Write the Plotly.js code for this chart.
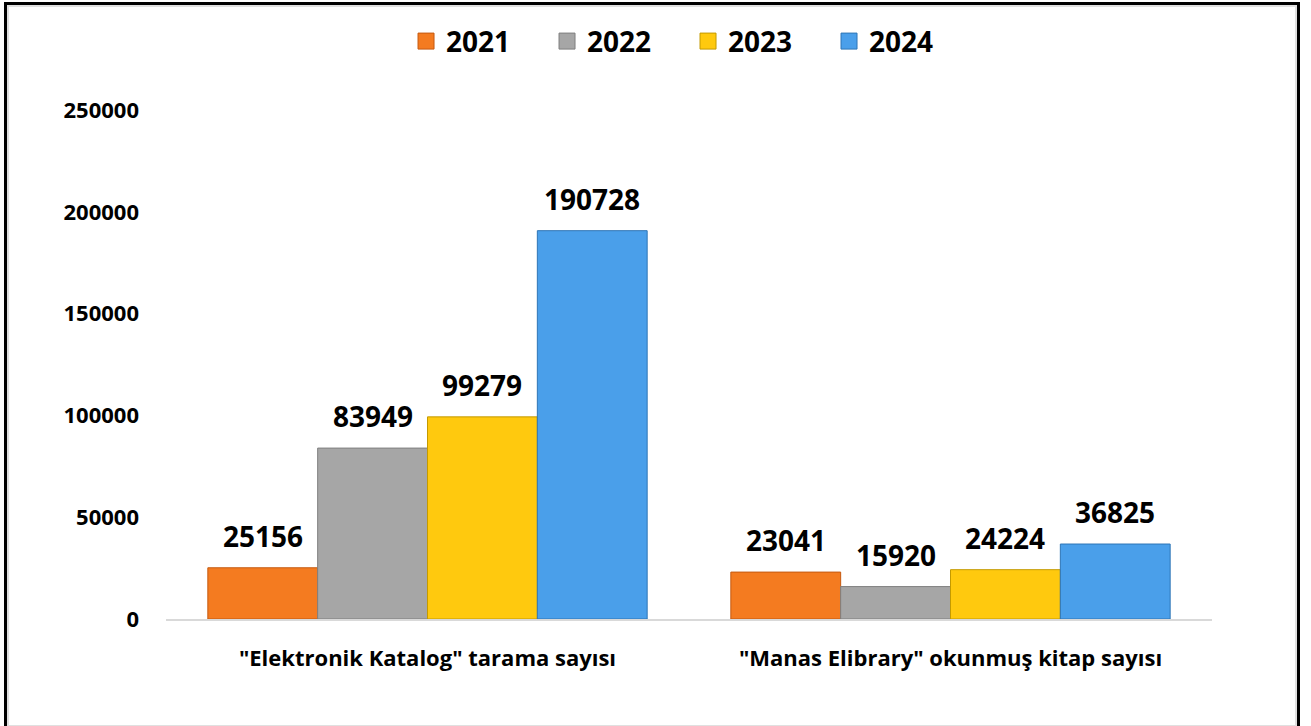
<!DOCTYPE html>
<html>
<head>
<meta charset="utf-8">
<script src="https://cdn.plot.ly/plotly-3.0.1.min.js"></script>
<style>
  html, body { margin: 0; padding: 0; background: #ffffff; }
  #wrap { position: relative; width: 1311px; height: 726px; overflow: hidden; }
  #chart { position: absolute; left: 0; top: 0; width: 1311px; height: 726px; }
  #frame { position: absolute; left: 4px; top: 2px; width: 1290px; height: 740px;
           border-left: 3px solid #000; border-top: 3px solid #000; border-right: 3px solid #000;
           pointer-events: none; }
  #inner { position: absolute; left: 7px; top: 5px; width: 1286px; height: 718px;
           border: 2px solid #e0e0e0; pointer-events: none; }
</style>
</head>
<body>
<div id="wrap">
  <div id="chart"></div>
  <div id="inner"></div>
  <div id="frame"></div>
</div>
<script>
const categories = ['"Elektronik Katalog" tarama sayısı', '"Manas Elibrary" okunmuş kitap sayısı'];
const years = ['2021', '2022', '2023', '2024'];
const values2021 = [25156, 23041];
const values2022 = [83949, 15920];
const values2023 = [99279, 24224];
const values2024 = [190728, 36825];
const tickValues = [0, 50000, 100000, 150000, 200000, 250000];

const seriesValues = [values2021, values2022, values2023, values2024];
const fillColors = ['#F47B20', '#A6A6A6', '#FFC90E', '#4A9FEA'];
const lineColors = ['#C55A11', '#7F7F7F', '#C49A00', '#2E75B6'];
const FONT = 'Open Sans, Liberation Sans, sans-serif';

const W = 1311, H = 726;
const margin = { l: 166, r: 99, t: 110, b: 107 };
const bargap = 0.16;
const plotW = W - margin.l - margin.r;
const barPx = plotW / categories.length * (1 - bargap) / years.length;

const traces = seriesValues.map((vals, i) => ({
  type: 'bar',
  name: years[i],
  x: categories,
  y: vals,
  showlegend: false,
  marker: { color: fillColors[i], line: { color: lineColors[i], width: 1 } },
  hoverinfo: 'skip'
}));

// legend entries (square swatches like the reference)
years.forEach((yr, i) => {
  traces.push({
    type: 'scatter',
    mode: 'markers',
    name: yr,
    x: [null], y: [null],
    showlegend: true,
    marker: { symbol: 'square', size: 16, color: fillColors[i], line: { color: lineColors[i], width: 1 } },
    hoverinfo: 'skip'
  });
});

const annotations = [];
seriesValues.forEach((vals, i) => {
  vals.forEach((v, j) => {
    annotations.push({
      x: categories[j], y: v, xref: 'x', yref: 'y',
      text: String(v), showarrow: false,
      xanchor: 'center', yanchor: 'bottom',
      xshift: (i - (years.length - 1) / 2) * barPx,
      yshift: 11,
      font: { family: FONT, size: 28, color: '#000', weight: 'bold' }
    });
  });
});

const layout = {
  width: W,
  height: H,
  margin: margin,
  paper_bgcolor: '#ffffff',
  plot_bgcolor: '#ffffff',
  barmode: 'group',
  bargap: bargap,
  bargroupgap: 0,
  showlegend: true,
  annotations: annotations,
  legend: {
    orientation: 'h',
    x: 0.3097, xanchor: 'left', xref: 'container',
    y: 0.943, yanchor: 'middle', yref: 'container',
    font: { family: FONT, size: 28, color: '#000', weight: 'bold' },
    entrywidth: 96, entrywidthmode: 'pixels',
    traceorder: 'normal'
  },
  xaxis: {
    type: 'category',
    showgrid: false,
    showline: true,
    linecolor: '#D9D9D9',
    linewidth: 2,
    ticks: '',
    ticklabelstandoff: 19,
    tickfont: { family: FONT, size: 22, color: '#000', weight: 'bold' },
    zeroline: false
  },
  yaxis: {
    range: [0, 250000],
    tickvals: tickValues,
    ticktext: tickValues.map(String),
    showgrid: false,
    showline: false,
    zeroline: false,
    ticks: '',
    ticklabelstandoff: 26,
    tickfont: { family: FONT, size: 22, color: '#000', weight: 'bold' }
  }
};

Plotly.newPlot('chart', traces, layout, { displayModeBar: false, staticPlot: true });
</script>
</body>
</html>
